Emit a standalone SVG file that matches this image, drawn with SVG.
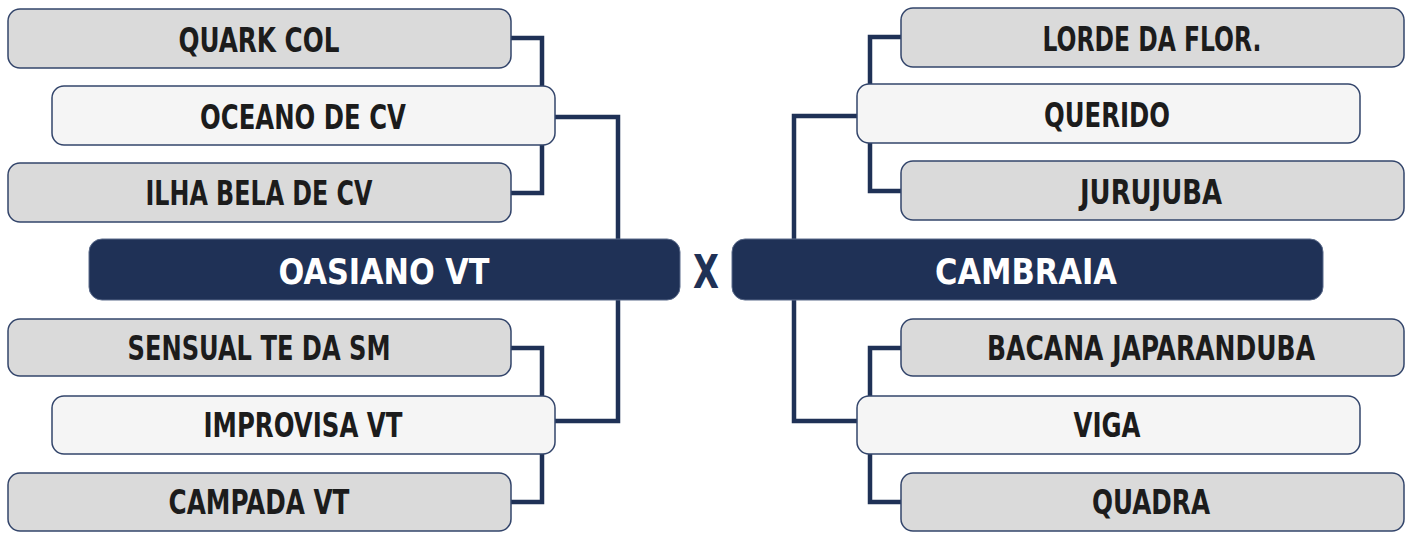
<svg xmlns="http://www.w3.org/2000/svg" width="1412" height="533" viewBox="0 0 1412 533">
<style>
.g{fill:#dadada;stroke:#33456b;stroke-width:1.5}
.w{fill:#f5f5f5;stroke:#33456b;stroke-width:1.5}
.d{fill:#1f3156;stroke:#5a6a8a;stroke-width:1}
.c{fill:none;stroke:#1f3156;stroke-width:4.5;stroke-linejoin:miter}
.t{font-family:"Liberation Sans Narrow","DejaVu Sans Condensed","Liberation Sans",sans-serif;font-weight:bold;font-size:33px;fill:#1c1c1c;text-anchor:middle}
.tw{fill:#ffffff;font-size:35px}
</style>
<rect width="1412" height="533" fill="#ffffff"/>
<g id="connectors">
<path class="c" d="M511,38 H542 V193 H511"/>
<path class="c" d="M555,117 H618 V240"/>
<path class="c" d="M618,299 V421 H555"/>
<path class="c" d="M511,348 H542 V502 H511"/>
<path class="c" d="M901,37 H870 V191 H901"/>
<path class="c" d="M857,116 H794 V240"/>
<path class="c" d="M794,299 V421 H857"/>
<path class="c" d="M901,348 H870 V502 H901"/>
</g>
<g id="n-quark"><rect class="g" x="8" y="9" width="503" height="59" rx="12"/><text class="t" x="259" y="52" textLength="161" lengthAdjust="spacingAndGlyphs">QUARK COL</text></g>
<g id="n-oceano"><rect class="w" x="52" y="86" width="503" height="59" rx="12"/><text class="t" x="303" y="129" textLength="206" lengthAdjust="spacingAndGlyphs">OCEANO DE CV</text></g>
<g id="n-ilha"><rect class="g" x="8" y="163" width="503" height="59" rx="12"/><text class="t" x="259" y="205" textLength="227" lengthAdjust="spacingAndGlyphs">ILHA BELA DE CV</text></g>
<g id="n-oasiano"><rect class="d" x="89" y="239" width="591" height="61" rx="13"/><text class="t tw" x="384" y="284" textLength="211" lengthAdjust="spacingAndGlyphs">OASIANO VT</text></g>
<g id="n-sensual"><rect class="g" x="8" y="319" width="503" height="57" rx="12"/><text class="t" x="259" y="360" textLength="263" lengthAdjust="spacingAndGlyphs">SENSUAL TE DA SM</text></g>
<g id="n-improvisa"><rect class="w" x="52" y="396" width="503" height="58" rx="12"/><text class="t" x="303" y="437" textLength="199" lengthAdjust="spacingAndGlyphs">IMPROVISA VT</text></g>
<g id="n-campada"><rect class="g" x="8" y="473" width="503" height="58" rx="12"/><text class="t" x="259" y="514" textLength="181" lengthAdjust="spacingAndGlyphs">CAMPADA VT</text></g>
<g id="x-label"><text class="t" x="706" y="288" style="fill:#1f3156;font-weight:600;font-size:47px" textLength="26" lengthAdjust="spacingAndGlyphs">X</text></g>
<g id="n-lorde"><rect class="g" x="901" y="8" width="503" height="59" rx="12"/><text class="t" x="1152" y="51" textLength="219" lengthAdjust="spacingAndGlyphs">LORDE DA FLOR.</text></g>
<g id="n-querido"><rect class="w" x="857" y="84" width="503" height="59" rx="12"/><text class="t" x="1107" y="127" textLength="126" lengthAdjust="spacingAndGlyphs">QUERIDO</text></g>
<g id="n-jurujuba"><rect class="g" x="901" y="161" width="503" height="59" rx="12"/><text class="t" x="1151" y="204" textLength="142" lengthAdjust="spacingAndGlyphs">JURUJUBA</text></g>
<g id="n-cambraia"><rect class="d" x="732" y="239" width="591" height="61" rx="13"/><text class="t tw" x="1026" y="284" textLength="182" lengthAdjust="spacingAndGlyphs">CAMBRAIA</text></g>
<g id="n-bacana"><rect class="g" x="901" y="319" width="503" height="57" rx="12"/><text class="t" x="1151" y="360" textLength="328" lengthAdjust="spacingAndGlyphs">BACANA JAPARANDUBA</text></g>
<g id="n-viga"><rect class="w" x="857" y="396" width="503" height="58" rx="12"/><text class="t" x="1107" y="437" textLength="67" lengthAdjust="spacingAndGlyphs">VIGA</text></g>
<g id="n-quadra"><rect class="g" x="901" y="473" width="503" height="58" rx="12"/><text class="t" x="1151" y="514" textLength="118" lengthAdjust="spacingAndGlyphs">QUADRA</text></g>
</svg>
